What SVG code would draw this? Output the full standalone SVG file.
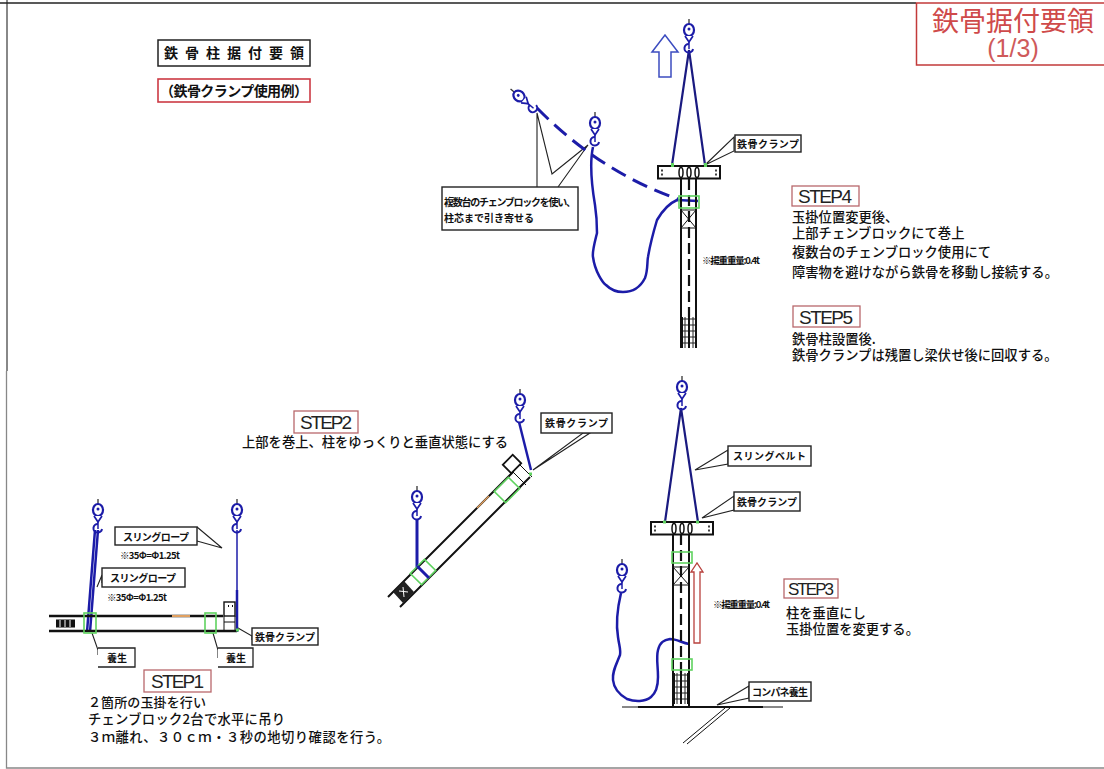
<svg xmlns="http://www.w3.org/2000/svg" width="1104" height="769" viewBox="0 0 1104 769">
<style>
text{font-family:"Noto Sans CJK JP","Liberation Sans",sans-serif;fill:#111}
.t{font-size:13.3px;font-weight:500}
.l{font-size:10px;font-weight:700}
.n{font-size:9.500px;font-weight:700}
.st{font-family:"Liberation Sans",sans-serif;font-size:19px;fill:#222}
.box{fill:#fff;stroke:#222;stroke-width:1.400}
.rbox{fill:#fff;stroke:#b8686c;stroke-width:1.300}
.ld{fill:none;stroke:#222;stroke-width:1.100}
.blk{fill:none;stroke:#111;stroke-width:2}
.thin{fill:none;stroke:#111;stroke-width:1}
.blu{fill:none;stroke:#1c1ca8;stroke-width:2.500}
.sl{fill:none;stroke:#1a1a80;stroke-width:2.200}
.blu1{fill:none;stroke:#1c1ca8;stroke-width:1.500}
.grn{fill:none;stroke:#5fd35f;stroke-width:1.600}
.dash{fill:none;stroke:#111;stroke-width:2.200;stroke-dasharray:11 5}
.hat{fill:none;stroke:#222;stroke-width:1}
</style>
<defs>
<g id="hook">
<path d="M0,-11V-6" stroke="#333" stroke-width="1.300"/>
<ellipse cx="0" cy="0" rx="5" ry="6" fill="#fff" stroke="#1c1ca8" stroke-width="2.200"/>
<circle cx="0" cy="-1" r="1.500" fill="#1c1ca8"/>
<path d="M-4,6 L0,12 L4,6" fill="#fff" stroke="#1c1ca8" stroke-width="1.700"/>
<path d="M4,19 A4.300,4.300 0 1 1 0,14" fill="none" stroke="#1c1ca8" stroke-width="2"/>
<path d="M0,11V19" class="blu1"/>
</g>
<g id="hatchv">
<path d="M0,2h16M0,8h16M0,14h16M0,20h16M0,26h16M4,0v31M12,0v31" class="hat"/>
<path d="M1,0v31M15,0v31M8,0v31" class="blk"/>
</g>
<g id="plate">
<rect x="0" y="0" width="62" height="12.500" fill="#fff" stroke="#111" stroke-width="2"/>
<path d="M4,3.500v2M4,7.500v2M58,3.500v2M58,7.500v2" stroke="#111" stroke-width="1.600"/>
<ellipse cx="23" cy="6.500" rx="2" ry="5" fill="#fff" stroke="#111" stroke-width="1.500"/>
<ellipse cx="31" cy="6.500" rx="2" ry="5" fill="#fff" stroke="#111" stroke-width="1.500"/>
<ellipse cx="39" cy="6.500" rx="2" ry="5" fill="#fff" stroke="#111" stroke-width="1.500"/>
</g>
</defs>
<rect width="1104" height="769" fill="#fff"/>
<path d="M7,0V371" fill="none" stroke="#888" stroke-width="2"/>
<path d="M6.500,371V768H1104" fill="none" stroke="#888" stroke-width="1.300"/>
<path d="M0,3H916" fill="none" stroke="#222" stroke-width="1.300"/>

<g id="title-block">
<rect x="916.500" y="3" width="190" height="62" fill="#fff" stroke="#c23a3a" stroke-width="1.500"/>
<text x="1013" y="31" font-size="27" text-anchor="middle" textLength="162" style="fill:#cf4a4a">鉄骨据付要領</text>
<text x="1013" y="57" text-anchor="middle" style="font-family:'Liberation Sans',sans-serif;font-size:25px;fill:#cf5a5a">(1/3)</text>
</g>
<g id="heading">
<rect x="158" y="40" width="152" height="26" fill="#fff" stroke="#222" stroke-width="1.500"/>
<text x="164" y="58" font-size="14" font-weight="700" textLength="140">鉄骨柱据付要領</text>
</g>
<g id="subheading">
<rect x="158" y="79" width="152" height="23" fill="#fff" stroke="#cc3a44" stroke-width="1.600"/>
<text x="160" y="96" font-size="14" font-weight="700" textLength="148">（鉄骨クランプ使用例）</text>
</g>

<g id="connectors">
<!-- STEP4 -->
<path d="M537,187V113L552,174L588,145L558,187" class="ld"/>
<path d="M705,165L734,137V151Z" class="ld"/>
<path d="M537,108Q600,172 678,199" fill="none" stroke="#1c1ca8" stroke-width="3" stroke-dasharray="16 8"/>
<path d="M593,147C589,165 592,187 595,205C597,218 597,225 597,233C594,245 592,252 593,257C595,272 603,283 606,285C612,291 618,292 623,292C632,292 640,288 645,278C648,270 647,262 648,257C650,245 654,230 657,220C664,208 670,203 677,200L698,201" class="blu"/>
<path d="M689,50L672,165M689,50L705,165" class="sl"/>
<!-- STEP3 -->
<path d="M681,408L665,522M681,408L698,522" class="sl"/>
<path d="M621,593C617,610 616,625 618,637C619,645 621,650 620,655C616,665 612,672 613,680C614,690 620,695 627,699C635,702 645,702 651,697C657,692 658,685 658,677C658,665 656,658 658,650C660,642 664,640 670,639C677,639 682,643 689,644" class="blu"/>
<path d="M695,470L728,450V464Z" class="ld"/>
<path d="M702,518L734,496V510Z" class="ld"/>
<path d="M717,705L749,686V698Z" class="ld"/>
<!-- STEP2 -->
<path d="M519,422L531,470" class="blu"/>
<path d="M417,520V568" stroke="#1c1ca8" stroke-width="3"/>
<path d="M533,470L583,433H590Z" class="ld"/>
<!-- STEP1 -->
<path d="M98,530L90,632M95,530L87,632" class="blu"/>
<path d="M237,530V632" class="blu1"/>
<path d="M237,590V632" class="blu"/>
<path d="M197,527L222,548L197,541" class="ld"/>
<path d="M97,587L102,575V583" class="ld"/>
<path d="M92,633L98,650V655" class="ld"/>
<path d="M213,633L218,650V658" class="ld"/>
<path d="M238,628L252,636V640" class="ld"/>
</g>

<g id="step4-rig">
<use href="#hook" transform="translate(689,30)"/>
<use href="#hook" transform="translate(595,123)"/>
<use href="#hook" transform="translate(519,96) rotate(-50)"/>
<path d="M659,77V52H652L665,35L678,52H671V77Z" fill="#fff" stroke="#3c4cc0" stroke-width="1.500"/>
<path d="M681,179V348M696,179V348" class="blk"/>
<path d="M689,179V317" class="dash"/>
<use href="#plate" transform="translate(658,166)"/>
<path d="M681,210H696V228H681ZM681,210L696,228M696,210L681,228" class="thin"/>
<use href="#hatchv" transform="translate(681,317)"/>
<rect x="679" y="196" width="20" height="12" class="grn"/>
<path d="M671,165h3M704,165h3" stroke="#5fd35f" stroke-width="4"/>
<text class="n" x="702" y="264" textLength="58">※揚重重量:0.4t</text>
</g>
<g id="step4-callout">
<rect x="442" y="187" width="136" height="43" class="box"/>
<text class="l" x="444" y="206" textLength="132">複数台のチェンブロックを使い、</text>
<text class="l" x="444" y="222">柱芯まで引き寄せる</text>
</g>
<g id="step4-clamp-label">
<rect x="735" y="135" width="66" height="17" class="box"/>
<text class="l" x="737" y="148" textLength="62">鉄骨クランプ</text>
</g>

<g id="step4-text">
<rect x="792" y="186" width="67" height="20" class="rbox"/>
<text class="st" x="798" y="203" textLength="54">STEP4</text>
<text class="t" x="792" y="222">玉掛位置変更後、</text>
<text class="t" x="792" y="238">上部チェンブロックにて巻上</text>
<text class="t" x="792" y="257">複数台のチェンブロック使用にて</text>
<text class="t" x="792" y="277">障害物を避けながら鉄骨を移動し接続する。</text>
</g>
<g id="step5-text">
<rect x="793" y="306" width="67" height="21" class="rbox"/>
<text class="st" x="799" y="324" textLength="54">STEP5</text>
<text class="t" x="792" y="344">鉄骨柱設置後.</text>
<text class="t" x="792" y="360">鉄骨クランプは残置し梁伏せ後に回収する。</text>
</g>

<g id="step3-rig">
<use href="#hook" transform="translate(682,387)"/>
<use href="#hook" transform="translate(622,570)"/>
<path d="M673,534V707M689,534V707" class="blk"/>
<path d="M681,534V673" class="dash"/>
<use href="#plate" transform="translate(651,522)"/>
<path d="M673,567H689V585H673ZM673,567L689,585M689,567L673,585" class="thin"/>
<use href="#hatchv" transform="translate(673,673)"/>
<rect x="672" y="552" width="20" height="11" class="grn"/>
<rect x="672" y="659" width="20" height="11" class="grn"/>
<path d="M663,522h3M696,522h3" stroke="#5fd35f" stroke-width="3"/>
<path d="M694,643V572H691L697,563L703,572H700V643Z" fill="#fff" stroke="#b8403c" stroke-width="1.300"/>
<path d="M622,707H783" class="thin"/>
<path d="M638,707H763" class="blk"/>
<path d="M725,708L683,743M730,708L687,744" class="thin"/>
<text class="n" x="713" y="608" textLength="57">※揚重重量:0.4t</text>
</g>
<g id="step3-sling-label">
<rect x="728" y="446" width="83" height="20" class="box"/>
<text class="l" x="733" y="460" textLength="73">スリングベルト</text>
</g>
<g id="step3-clamp-label">
<rect x="734" y="492" width="66" height="19" class="box"/>
<text class="l" x="737" y="506" textLength="60">鉄骨クランプ</text>
</g>
<g id="step3-board-label">
<rect x="749" y="682" width="62" height="19" class="box"/>
<text class="l" x="752" y="696" textLength="56">コンパネ養生</text>
</g>
<g id="step3-text">
<rect x="784" y="579" width="54" height="19" class="rbox"/>
<text class="st" x="788" y="595" textLength="46" style="font-size:17px">STEP3</text>
<text class="t" x="786" y="618">柱を垂直にし</text>
<text class="t" x="786" y="634">玉掛位置を変更する。</text>
</g>

<g id="step2-rig">
<use href="#hook" transform="translate(520,400)"/>
<use href="#hook" transform="translate(417,497)"/>
<path d="M388,597L513,472M400,607L530,477" class="blk"/>
<path d="M393,592L403,603L414,592L404,581Z" fill="#222"/>
<path d="M399,591L408,592M403,587L404,597" stroke="#fff" stroke-width="1"/>
<rect x="-10" y="-8" width="20" height="16" transform="translate(423,572) rotate(-45)" class="grn"/>
<path d="M417,566L429,578" stroke="#1c1ca8" stroke-width="3"/>
<rect x="-10" y="-8" width="20" height="16" transform="translate(507,490) rotate(-45)" class="grn"/>
<path d="M477,508L489,496" stroke="#e0a060" stroke-width="1.500"/>
<path d="M513,472L526,485M520,465L532,477" class="thin"/>
<rect x="-7" y="-6" width="14" height="12" transform="translate(512,464) rotate(-45)" fill="#fff" stroke="#111" stroke-width="1.800"/>
<path d="M529,474h3" stroke="#5fd35f" stroke-width="3"/>
</g>
<g id="step2-clamp-label">
<rect x="541" y="413" width="71" height="20" class="box"/>
<text class="l" x="545" y="427" textLength="63">鉄骨クランプ</text>
</g>
<g id="step2-text">
<rect x="294" y="411" width="64" height="22" class="rbox"/>
<text class="st" x="300" y="429" textLength="52">STEP2</text>
<text class="t" x="242" y="447">上部を巻上、柱をゆっくりと垂直状態にする</text>
</g>

<g id="step1-rig">
<use href="#hook" transform="translate(98,510)"/>
<use href="#hook" transform="translate(237,510)"/>
<path d="M49,616H223M49,631H237" stroke="#111" stroke-width="2.500"/>
<rect x="56" y="619.500" width="19" height="8" fill="#111"/>
<path d="M60,620v7M65,620v7M70,620v7" stroke="#fff" stroke-width="1"/>
<path d="M172,616H190" stroke="#e0a060" stroke-width="2"/>
<rect x="84" y="613" width="12" height="20" class="grn"/>
<rect x="205" y="613" width="11" height="20" class="grn"/>
<rect x="224" y="602" width="11" height="14" fill="#fff" stroke="#111" stroke-width="1.400"/>
<path d="M228,606h1M232,606h1" stroke="#111" stroke-width="2"/>
<path d="M224,616V631M235,616V631M224,622H235" class="thin"/>
<path d="M236,630h3" stroke="#5fd35f" stroke-width="3"/>
</g>
<g id="step1-sling-a">
<rect x="115" y="527" width="82" height="18" class="box"/>
<text class="l" x="123" y="541" textLength="66">スリングロープ</text>
<text class="n" x="120" y="559" textLength="60">※35Φ=Φ1.25t</text>
</g>
<g id="step1-sling-b">
<rect x="102" y="568" width="83" height="19" class="box"/>
<text class="l" x="110" y="582" textLength="66">スリングロープ</text>
<text class="n" x="107" y="601" textLength="60">※35Φ=Φ1.25t</text>
</g>
<g id="step1-cure-a">
<path d="M98,667H135V648H98" fill="#fff" stroke="#222" stroke-width="1.300"/>
<text class="l" x="107" y="662">養生</text>
</g>
<g id="step1-cure-b">
<path d="M218,667H253V648H218" fill="#fff" stroke="#222" stroke-width="1.300"/>
<text class="l" x="226" y="662">養生</text>
</g>
<g id="step1-clamp-label">
<rect x="252" y="628" width="66" height="17" class="box"/>
<text class="l" x="255" y="641" textLength="60">鉄骨クランプ</text>
</g>
<g id="step1-text">
<rect x="144" y="670" width="67" height="22" class="rbox"/>
<text class="st" x="151" y="688" textLength="53">STEP1</text>
<text class="t" x="88" y="707" textLength="118" style="font-size:13px">２箇所の玉掛を行い</text>
<text class="t" x="88" y="724" textLength="197">チェンブロック2台で水平に吊り</text>
<text class="t" x="88" y="742" textLength="302">３ｍ離れ、３０ｃｍ・３秒の地切り確認を行う。</text>
</g>
</svg>
